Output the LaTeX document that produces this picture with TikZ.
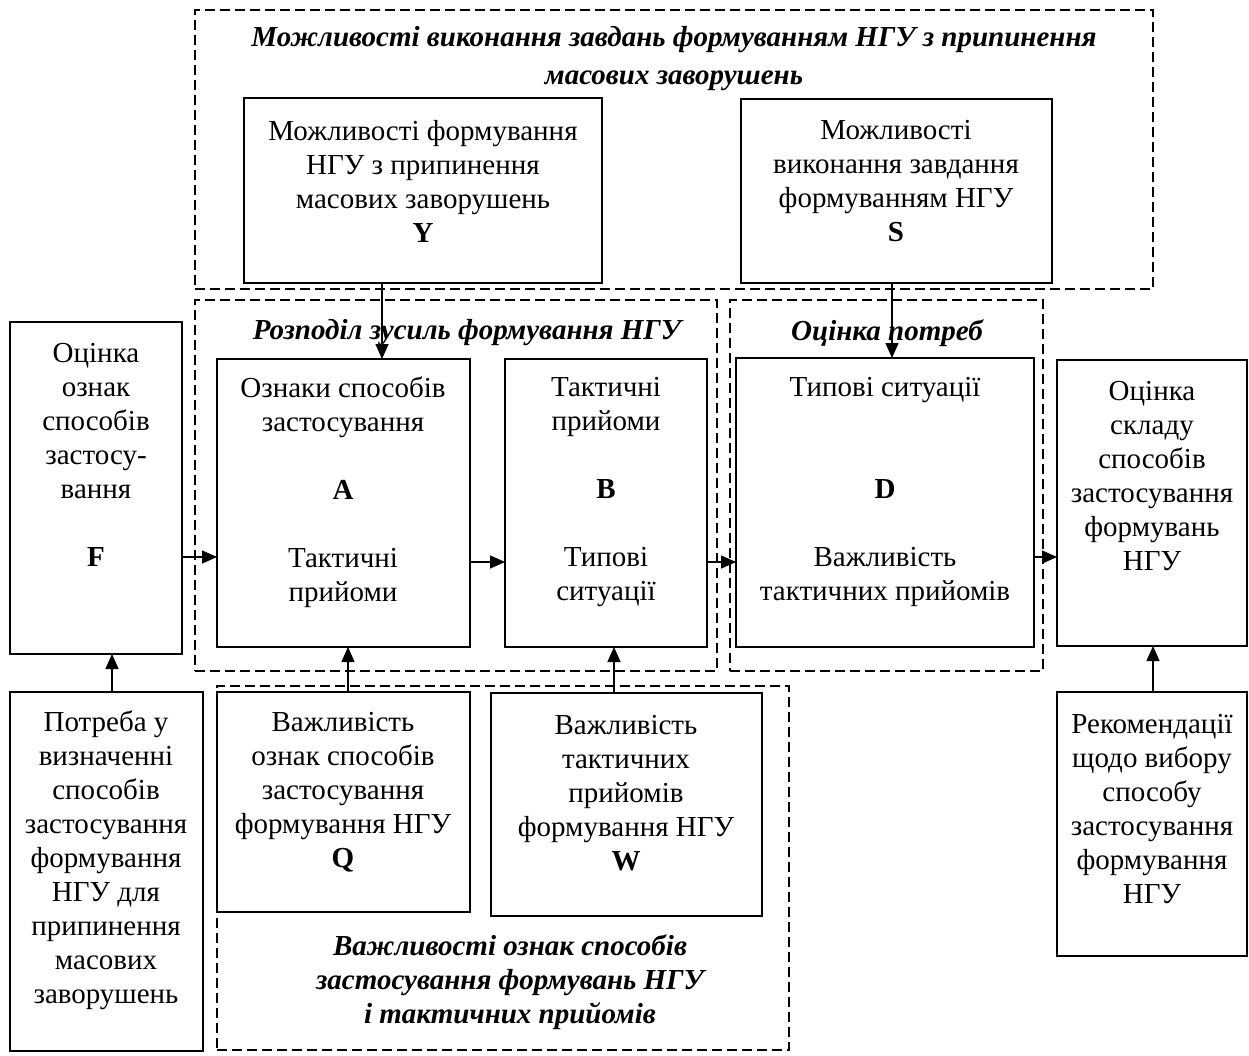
\documentclass[tikz,border=0pt]{standalone}
\usepackage{fontspec}
\setmainfont{Liberation Serif}
\usetikzlibrary{arrows.meta}
\tikzset{
  box/.style={draw, line width=1.7pt, inner sep=0pt, outer sep=0pt},
  grp/.style={draw, line width=1.4pt, dash pattern=on 10pt off 5pt, inner sep=0pt, outer sep=0pt},
  txt/.style={align=center, inner sep=0pt, font=\fontsize{29}{34}\selectfont},
  ttl/.style={align=center, inner sep=0pt, font=\fontsize{29}{38}\selectfont\bfseries\itshape},
  arr/.style={line width=1.4pt, -{Triangle[length=15pt,width=13pt]}}
}
\newcommand\drawbx[6]{\node[#6, minimum width={(#4-#2)*1pt}, minimum height={(#5-#3)*1pt}] (#1) at ({(#2+#4)/2},{(#3+#5)/2}) {};}
\begin{document}
\begin{tikzpicture}[x=1pt,y=-1pt]
\useasboundingbox (0,0) rectangle (1249,1055);
% groups
\drawbx{G1}{195}{10}{1153}{289}{grp}
\drawbx{G2}{195}{300}{717}{671}{grp}
\drawbx{G3}{730}{300}{1043}{671}{grp}
\drawbx{G4}{217}{686}{789}{1050}{grp}
% boxes
\drawbx{Y}{244}{98}{602}{283}{box}
\drawbx{S}{741}{99}{1052}{283}{box}
\drawbx{F}{10}{322}{182}{654}{box}
\drawbx{A}{217}{359}{470}{647}{box}
\drawbx{B}{505}{359}{707}{647}{box}
\drawbx{D}{736}{358}{1034}{647}{box}
\drawbx{R}{1057}{360}{1247}{646}{box}
\drawbx{P}{10}{692}{203}{1051}{box}
\drawbx{Q}{217}{692}{470}{912}{box}
\drawbx{W}{491}{693}{762}{916}{box}
\drawbx{Rec}{1057}{692}{1247}{956}{box}
% titles
\node[ttl] (tG1) at (674,59) {Можливості виконання завдань формуванням НГУ з припинення\\масових заворушень};
\node[ttl] (tG2) at (467,333) {Розподіл зусиль формування НГУ};
\node[ttl] (tG3) at (887,333) {Оцінка потреб};
\node[ttl, font=\fontsize{29}{34}\selectfont\bfseries\itshape] (tG4) at (510,982) {Важливості ознак способів\\застосування формувань НГУ\\і тактичних прийомів};
% box texts
\node[txt] (tY) at (423,181.5) {Можливості формування\\НГУ з припинення\\масових заворушень\\\textbf{Y}};
\node[txt] (tS) at (896,181.5) {Можливості\\виконання завдання\\формуванням НГУ\\\textbf{S}};
\node[txt] (tF) at (96,455) {Оцінка\\ознак\\способів\\застосу-\\вання\\\mbox{}\\\textbf{F}};
\node[txt] (tA) at (343,492) {Ознаки способів\\застосування\\\mbox{}\\\textbf{A}\\\mbox{}\\Тактичні\\прийоми};
\node[txt] (tB) at (606,492) {Тактичні\\прийоми\\\mbox{}\\\textbf{B}\\\mbox{}\\Типові\\ситуації};
\node[txt] (tD) at (885,492) {Типові ситуації\\\mbox{}\\\mbox{}\\\textbf{D}\\\mbox{}\\Важливість\\тактичних прийомів};
\node[txt] (tR) at (1152,476.5) {Оцінка\\складу\\способів\\застосування\\формувань\\НГУ};
\node[txt] (tP) at (106,860) {Потреба у\\визначенні\\способів\\застосування\\формування\\НГУ для\\припинення\\масових\\заворушень};
\node[txt] (tQ) at (343,792.5) {Важливість\\ознак способів\\застосування\\формування НГУ\\\textbf{Q}};
\node[txt] (tW) at (626,793) {Важливість\\тактичних\\прийомів\\формування НГУ\\\textbf{W}};
\node[txt] (tRec) at (1152,809.5) {Рекомендації\\щодо вибору\\способу\\застосування\\формування\\НГУ};
% connector guides
\coordinate (xYA) at (382,0);
\coordinate (xSD) at (892,0);
\coordinate (xQA) at (348,0);
\coordinate (xWB) at (614,0);
\coordinate (xPF) at (112,0);
\coordinate (xRR) at (1153,0);
\coordinate (yFA) at (0,557);
\coordinate (yAB) at (0,562);
\coordinate (yBD) at (0,562);
\coordinate (yDR) at (0,557);
% connectors
\draw[arr] (Y.south -| xYA) -- (A.north -| xYA);
\draw[arr] (S.south -| xSD) -- (D.north -| xSD);
\draw[arr] (F.east |- yFA) -- (A.west |- yFA);
\draw[arr] (A.east |- yAB) -- (B.west |- yAB);
\draw[arr] (B.east |- yBD) -- (D.west |- yBD);
\draw[arr] (D.east |- yDR) -- (R.west |- yDR);
\draw[arr] (Q.north -| xQA) -- (A.south -| xQA);
\draw[arr] (W.north -| xWB) -- (B.south -| xWB);
\draw[arr] (P.north -| xPF) -- (F.south -| xPF);
\draw[arr] (Rec.north -| xRR) -- (R.south -| xRR);
\end{tikzpicture}
\end{document}
